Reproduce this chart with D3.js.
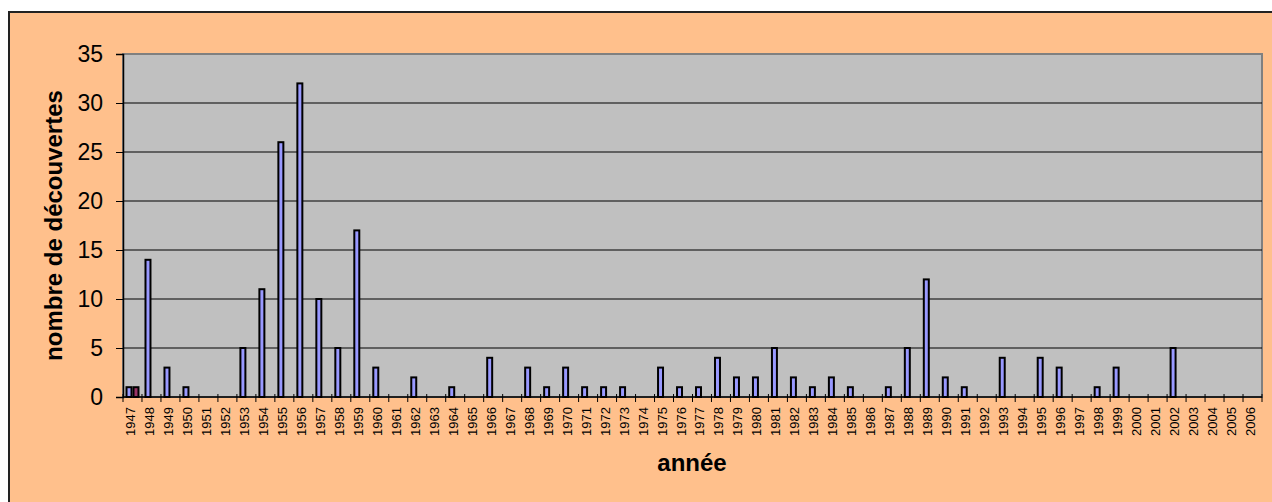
<!DOCTYPE html>
<html lang="fr">
<head>
    <meta charset="UTF-8">
    <title>Découvertes par année</title>
    <script src="https://d3js.org/d3.v7.min.js"></script>
    <style>
        body { margin: 0; background: #ffffff; }
        svg { display: block; font-family: "Liberation Sans", Arial, sans-serif; }
        .tick-label-y { font-size: 23px; fill: #000; }
        .tick-label-x { font-size: 13px; fill: #000; }
        .axis-title { font-size: 24px; font-weight: bold; fill: #000; }
    </style>
</head>
<body>
    <script>
        const years = d3.range(1947, 2007).map(String);
        const seriesA = [1, 14, 3, 1, 0, 0, 5, 11, 26, 32, 10, 5, 17, 3, 0, 2, 0, 1, 0, 4,
                         0, 3, 1, 3, 1, 1, 1, 0, 3, 1, 1, 4, 2, 2, 5, 2, 1, 2, 1, 0,
                         1, 5, 12, 2, 1, 0, 4, 0, 4, 3, 0, 1, 3, 0, 0, 5, 0, 0, 0, 0];
        const seriesB = [1, 0, 0, 0, 0, 0, 0, 0, 0, 0, 0, 0, 0, 0, 0, 0, 0, 0, 0, 0,
                         0, 0, 0, 0, 0, 0, 0, 0, 0, 0, 0, 0, 0, 0, 0, 0, 0, 0, 0, 0,
                         0, 0, 0, 0, 0, 0, 0, 0, 0, 0, 0, 0, 0, 0, 0, 0, 0, 0, 0, 0];
        const yTicks = [0, 5, 10, 15, 20, 25, 30, 35];
        const seriesNames = ["a", "b"];
        const seriesColors = ["#9999ff", "#993366"];

        const width = 1272, height = 502;
        const plot = { left: 123, top: 54, right: 1262, bottom: 397 };

        const svg = d3.select("body").append("svg")
            .attr("width", width)
            .attr("height", height);

        // chart area
        svg.append("rect")
            .attr("x", 9).attr("y", 12)
            .attr("width", width + 10).attr("height", height + 10)
            .attr("fill", "#ffc08c")
            .attr("stroke", "#222").attr("stroke-width", 2);

        const x0 = d3.scaleBand().domain(years).range([plot.left, plot.right]).padding(0);
        const x1 = d3.scaleBand().domain(seriesNames).range([0, x0.bandwidth()])
            .paddingInner(0).paddingOuter(0.36);
        const y = d3.scaleLinear().domain([0, 35]).range([plot.bottom, plot.top]);

        // plot area
        svg.append("rect")
            .attr("x", plot.left).attr("y", plot.top)
            .attr("width", plot.right - plot.left).attr("height", plot.bottom - plot.top)
            .attr("fill", "#c0c0c0")
            .attr("stroke", "#808080").attr("stroke-width", 2);

        // gridlines
        svg.append("g").selectAll("line")
            .data(yTicks.filter(d => d > 0 && d < 35))
            .join("line")
            .attr("x1", plot.left).attr("x2", plot.right)
            .attr("y1", d => y(d)).attr("y2", d => y(d))
            .attr("stroke", "#000").attr("stroke-width", 1);

        // y axis
        const yAxis = svg.append("g")
            .attr("transform", `translate(${plot.left},0)`)
            .call(d3.axisLeft(y).tickValues(yTicks).tickSize(7).tickPadding(13));
        yAxis.select(".domain").attr("stroke", "#000").attr("stroke-width", 1.5);
        yAxis.selectAll(".tick line").attr("stroke", "#000");
        yAxis.selectAll(".tick text").attr("class", "tick-label-y").attr("font-size", null).attr("font-family", null);
        yAxis.attr("font-size", null).attr("font-family", null);

        // bars
        const groups = svg.append("g").selectAll("g")
            .data(years)
            .join("g")
            .attr("transform", d => `translate(${x0(d)},0)`);

        groups.selectAll("rect")
            .data((d, i) => [{ s: "a", v: seriesA[i] }, { s: "b", v: seriesB[i] }].filter(e => e.v > 0))
            .join("rect")
            .attr("x", d => x1(d.s) + 1)
            .attr("width", x1.bandwidth() - 2)
            .attr("y", d => y(d.v))
            .attr("height", d => y(0) - y(d.v))
            .attr("fill", d => seriesColors[seriesNames.indexOf(d.s)])
            .attr("stroke", "#000").attr("stroke-width", 2);

        // x axis
        svg.append("line")
            .attr("x1", plot.left).attr("x2", plot.right)
            .attr("y1", plot.bottom).attr("y2", plot.bottom)
            .attr("stroke", "#000").attr("stroke-width", 1.5);

        const boundaries = years.map(d => x0(d)).concat([plot.right]);
        svg.append("g").selectAll("line")
            .data(boundaries)
            .join("line")
            .attr("x1", d => d).attr("x2", d => d)
            .attr("y1", plot.bottom - 3).attr("y2", plot.bottom + 5)
            .attr("stroke", "#000").attr("stroke-width", 1);

        svg.append("g").selectAll("text")
            .data(years)
            .join("text")
            .attr("class", "tick-label-x")
            .attr("transform", d => `translate(${x0(d) + x0.bandwidth() / 2 + 2.5},${plot.bottom + 10}) rotate(-90)`)
            .attr("text-anchor", "end")
            .text(d => d);

        // titles
        svg.append("text")
            .attr("class", "axis-title")
            .attr("x", 692)
            .attr("y", 471)
            .attr("text-anchor", "middle")
            .text("année");

        svg.append("text")
            .attr("class", "axis-title")
            .attr("transform", `translate(62,${(plot.top + plot.bottom) / 2}) rotate(-90)`)
            .attr("text-anchor", "middle")
            .text("nombre de découvertes");
    </script>
</body>
</html>
